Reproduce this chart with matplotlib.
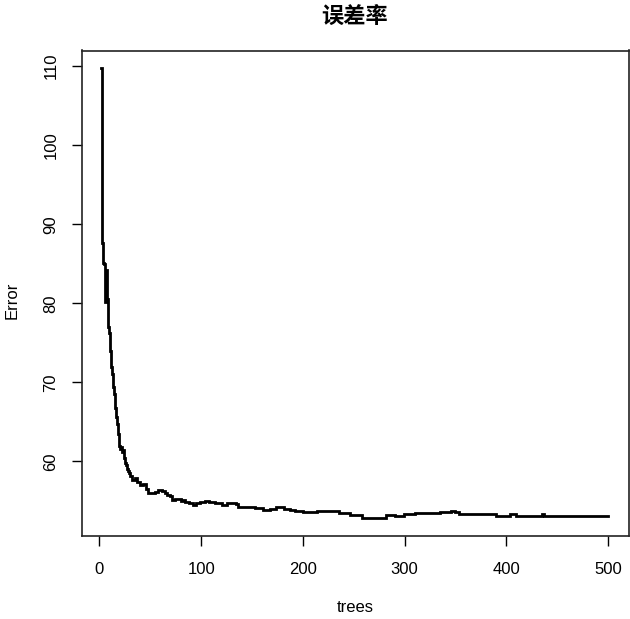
import matplotlib
matplotlib.use("Agg")
import matplotlib.pyplot as plt

plt.rcParams['font.family'] = ['Liberation Sans', 'Noto Sans CJK SC', 'DejaVu Sans']

title = "误差率"
xlabel = "trees"
ylabel = "Error"

trees = [1, 2, 3, 4, 5, 6, 7, 8, 9, 10, 11, 12, 13, 14, 15, 16, 17, 18, 19, 20,
         21, 22, 23, 24, 25, 26, 27, 28, 29, 30, 32, 35, 37, 40, 43, 46, 48, 53, 55, 58,
         61, 64, 66, 69, 71, 74, 77, 80, 82, 84, 88, 92, 95, 99, 104, 108, 114, 120, 125, 132,
         134, 136, 145, 153, 161, 168, 174, 181, 187, 192, 200, 207, 214, 220, 228, 236, 246, 258, 276, 282,
         291, 299, 305, 310, 318, 325, 335, 346, 350, 354, 387, 390, 402, 404, 410, 431, 435, 437, 500]
error = [109.7, 87.6, 85.1, 85.0, 80.1, 84.2, 80.5, 77.0, 76.2, 74.0, 72.0, 71.0, 69.4, 68.5, 66.8, 65.6, 64.8, 63.5, 62.0, 61.6,
         61.8, 61.2, 61.4, 60.5, 59.8, 59.5, 59.0, 58.8, 58.5, 58.2, 57.7, 57.9, 57.4, 57.0, 57.2, 56.5, 56.0, 56.0, 56.2, 56.4,
         56.3, 56.0, 55.8, 55.6, 55.1, 55.3, 55.3, 55.0, 55.1, 54.9, 54.8, 54.5, 54.7, 54.9, 55.0, 54.9, 54.7, 54.5, 54.8, 54.8,
         54.6, 54.2, 54.2, 54.1, 53.9, 54.0, 54.2, 54.0, 53.9, 53.7, 53.6, 53.6, 53.7, 53.8, 53.7, 53.5, 53.2, 52.9, 52.9, 53.2,
         53.1, 53.3, 53.3, 53.5, 53.5, 53.5, 53.6, 53.7, 53.6, 53.3, 53.3, 53.1, 53.1, 53.3, 53.1, 53.1, 53.3, 53.1, 53.1]

xticks = [0, 100, 200, 300, 400, 500]
yticks = [60, 70, 80, 90, 100, 110]

fig = plt.figure(figsize=(6.3, 6.19), dpi=100)
ax = fig.add_axes([82/630, 1-535.5/619, (628.5-82)/630, (535.5-50.5)/619])
ax.plot(trees, error, color='black', lw=2.0, drawstyle='steps-post', solid_joinstyle='miter')

ax.set_xlim(-17.2, 520.2)
ax.set_ylim(50.64, 111.96)
ax.set_xticks(xticks)
ax.set_yticks(yticks)
ax.set_yticklabels([str(v) for v in yticks], rotation=90, va='center')
ax.tick_params(axis='both', direction='out', length=7, width=1, labelsize=12, colors='black')
ax.tick_params(axis='x', pad=12)
ax.tick_params(axis='y', pad=10)
for s in ax.spines.values():
    s.set_linewidth(1.2)
    s.set_color('#222222')

fig.text(355/630, 1-16/619, title, ha='center', va='center', fontsize=16,
         fontweight='bold', family=['Noto Sans CJK SC', 'DejaVu Sans'])
fig.text(355/630, 1-607/619, xlabel, ha='center', va='center', fontsize=12)
fig.text(12/630, 1-300/619, ylabel, ha='center', va='center', fontsize=12, rotation=90)

fig.savefig("out.png", dpi=100)
